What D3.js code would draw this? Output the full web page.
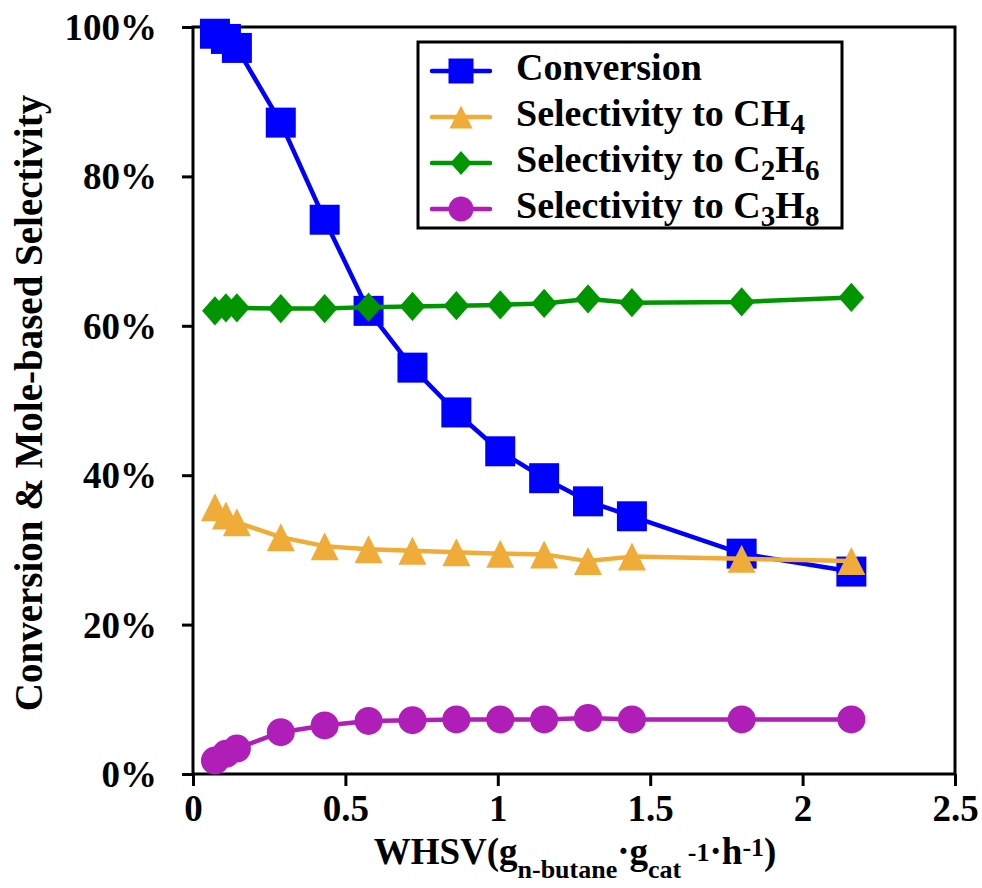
<!DOCTYPE html>
<html>
<head>
<meta charset="utf-8">
<script src="https://cdn.jsdelivr.net/npm/d3@7/dist/d3.min.js"></script>
<style>
  html, body { margin: 0; padding: 0; background: #fff; }
  svg { display: block; }
  text { font-family: "Liberation Serif", "Times New Roman", serif; font-weight: bold; fill: #000; }
</style>
</head>
<body>
<svg id="chart" width="982" height="888"></svg>
<script>
// WHSV values (g n-butane / g cat / h)
const whsv = [0.072, 0.108, 0.144, 0.288, 0.432, 0.576, 0.72, 0.864, 1.008, 1.152, 1.296, 1.44, 1.8, 2.16];

// Percent values for each series
const conversion = [99.1, 98.4, 97.2, 87.2, 74.2, 62.0, 54.4, 48.4, 43.2, 39.6, 36.5, 34.5, 29.5, 27.1];
const selCH4     = [35.7, 34.6, 33.7, 31.7, 30.5, 30.1, 29.9, 29.7, 29.5, 29.4, 28.5, 29.1, 28.8, 28.5];
const selC2H6    = [62.0, 62.4, 62.4, 62.3, 62.3, 62.5, 62.6, 62.7, 62.8, 63.0, 63.6, 63.1, 63.2, 63.8];
const selC3H8    = [1.8, 2.7, 3.4, 5.6, 6.5, 7.1, 7.2, 7.3, 7.3, 7.3, 7.5, 7.3, 7.3, 7.3];

const xTicks = [0, 0.5, 1, 1.5, 2, 2.5];
const xTickLabels = ["0", "0.5", "1", "1.5", "2", "2.5"];
const yTicks = [0, 20, 40, 60, 80, 100];
const yTickLabels = ["0%", "20%", "40%", "60%", "80%", "100%"];

const seriesNames = ["Conversion", "Selectivity to CH4", "Selectivity to C2H6", "Selectivity to C3H8"];

const series = [
  { name: seriesNames[0], values: conversion, color: "#0000ff", shape: "square",
    label: [["Conversion", null]] },
  { name: seriesNames[1], values: selCH4, color: "#f0ac38", shape: "triangle",
    label: [["Selectivity to CH", null], ["4", "sub"]] },
  { name: seriesNames[2], values: selC2H6, color: "#009600", shape: "diamond",
    label: [["Selectivity to C", null], ["2", "sub"], ["H", null], ["6", "sub"]] },
  { name: seriesNames[3], values: selC3H8, color: "#b01eb8", shape: "circle",
    label: [["Selectivity to C", null], ["3", "sub"], ["H", null], ["8", "sub"]] }
];

const svg = d3.select("#chart");
const plotLeft = 193, plotRight = 955, plotTop = 27, plotBottom = 774;

const x = d3.scaleLinear().domain([0, 2.5]).range([plotLeft, plotRight]);
const y = d3.scaleLinear().domain([0, 100]).range([plotBottom, plotTop]);

// Marker path generators, size = full width in px
function markerPath(shape, s) {
  const h = s / 2;
  switch (shape) {
    case "square":   return `M${-h},${-h}H${h}V${h}H${-h}Z`;
    case "triangle": return `M0,${-h}L${h},${h}L${-h},${h}Z`;
    case "diamond":  return `M0,${-h * 1.05}L${h * 0.92},0L0,${h * 1.05}L${-h * 0.92},0Z`;
    case "circle":   return d3.arc()({ innerRadius: 0, outerRadius: h, startAngle: 0, endAngle: 2 * Math.PI });
  }
}
const markerSize = { square: 30, triangle: 28, diamond: 28, circle: 28 };
const legendMarkerSize = { square: 25, triangle: 23, diamond: 23, circle: 25 };

// Axes
const xAxis = d3.axisBottom(x).tickValues(xTicks).tickFormat((d, i) => xTickLabels[i]).tickSize(12).tickSizeOuter(0);
const yAxis = d3.axisLeft(y).tickValues(yTicks).tickFormat((d, i) => yTickLabels[i]).tickSize(11).tickSizeOuter(0);

const gx = svg.append("g").attr("transform", `translate(0,${plotBottom})`).call(xAxis);
const gy = svg.append("g").attr("transform", `translate(${plotLeft},0)`).call(yAxis);
[gx, gy].forEach(g => {
  g.select(".domain").remove();
  g.selectAll(".tick line").attr("stroke", "#000").attr("stroke-width", 3);
  g.selectAll(".tick text").style("font-size", "37px").style("font-family", "Liberation Serif, serif").style("font-weight", "bold").attr("fill", "#000");
});
gx.selectAll(".tick text").attr("dy", 0).attr("y", 47);
gy.selectAll(".tick text").attr("x", -36).attr("dy", "0.34em");

// Plot frame
svg.append("rect")
  .attr("x", plotLeft).attr("y", plotTop)
  .attr("width", plotRight - plotLeft).attr("height", plotBottom - plotTop)
  .attr("fill", "none").attr("stroke", "#000").attr("stroke-width", 3);

// Series lines and markers
const line = d3.line().x((d, i) => x(whsv[i])).y(d => y(d));
series.forEach(s => {
  const g = svg.append("g");
  g.append("path").datum(s.values)
    .attr("d", line).attr("fill", "none")
    .attr("stroke", s.color).attr("stroke-width", 4.5).attr("stroke-linejoin", "round");
  g.selectAll("path.m").data(s.values).join("path")
    .attr("class", "m")
    .attr("transform", (d, i) => `translate(${x(whsv[i])},${y(d)})`)
    .attr("d", markerPath(s.shape, markerSize[s.shape]))
    .attr("fill", s.color);
});

// Legend
const lg = svg.append("g");
lg.append("rect").attr("x", 418).attr("y", 42).attr("width", 424).attr("height", 186)
  .attr("fill", "#fff").attr("stroke", "#000").attr("stroke-width", 3);
series.forEach((s, k) => {
  const cy = 71 + k * 46;
  lg.append("line").attr("x1", 432).attr("x2", 490).attr("y1", cy).attr("y2", cy)
    .attr("stroke", s.color).attr("stroke-width", 4.5).attr("stroke-linecap", "round");
  lg.append("path").attr("transform", `translate(461,${cy})`)
    .attr("d", markerPath(s.shape, legendMarkerSize[s.shape])).attr("fill", s.color);
  const t = lg.append("text").attr("x", 516).attr("y", cy + 9).style("font-size", "38px");
  s.label.forEach(([str, kind], j) => {
    const ts = t.append("tspan").text(str);
    if (kind === "sub") ts.style("font-size", "29px").attr("dy", 8);
    else if (j > 0) ts.attr("dy", -8);
  });
});

// Y axis title
svg.append("text")
  .attr("transform", `translate(42,403) rotate(-90)`)
  .attr("text-anchor", "middle")
  .style("font-size", "39px")
  .text("Conversion & Mole-based Selectivity");

// X axis title with sub/superscripts
const xt = svg.append("text")
  .attr("x", 575).attr("y", 864)
  .attr("text-anchor", "middle")
  .style("font-size", "37px");
xt.append("tspan").text("WHSV(g");
xt.append("tspan").text("n-butane").style("font-size", "26px").attr("dy", 14);
xt.append("tspan").text("·g").attr("dy", -14);
xt.append("tspan").text("cat").style("font-size", "26px").attr("dy", 14);
xt.append("tspan").text(" -1").style("font-size", "26px").attr("dy", -17);
xt.append("tspan").text("·h").attr("dy", 3);
xt.append("tspan").text("-1").style("font-size", "26px").attr("dy", -8);
xt.append("tspan").text(")").attr("dy", 8);
</script>
</body>
</html>
